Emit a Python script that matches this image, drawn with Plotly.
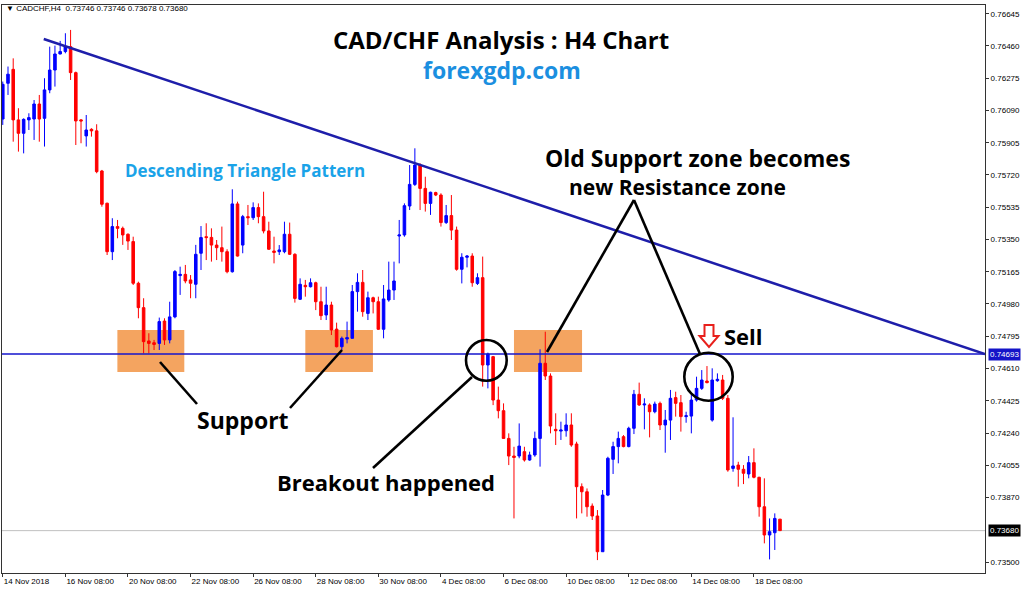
import plotly.graph_objects as go

# ---------------- data (CAD/CHF H4) ----------------
opens = [0.76041,0.76246,0.76326,0.76036,0.75959,0.76036,0.76041,0.76127,0.76045,0.76208,
         0.76322,0.76414,0.76428,0.76456,0.76307,0.76036,0.75944,0.75982,0.75973,0.75743,
         0.75558,0.75280,0.75424,0.75414,0.75380,0.75338,0.75099,0.74959,0.74768,0.74758,
         0.74754,0.74882,0.74774,0.74906,0.75143,0.75150,0.75118,0.75093,0.75271,0.75366,
         0.75362,0.75318,0.75303,0.75280,0.75165,0.75554,0.75318,0.75481,0.75475,0.75533,
         0.75481,0.75399,0.75284,0.75280,0.75280,0.75380,0.75265,0.75007,0.75087,0.75079,
         0.75102,0.74993,0.74917,0.74974,0.74836,0.74735,0.74779,0.74783,0.75051,0.75104,
         0.74926,0.75016,0.74993,0.74835,0.75003,0.75060,0.75370,0.75376,0.75542,0.75666,
         0.75777,0.75643,0.75557,0.75619,0.75605,0.75447,0.75487,0.75404,0.75179,0.75248,
         0.75255,0.75098,0.75131,0.74630,0.74678,0.74429,0.74368,0.74209,0.74108,0.74108,
         0.74133,0.74085,0.74114,0.74209,0.74640,0.74567,0.74261,0.74251,0.74253,0.74286,
         0.74177,0.73932,0.73903,0.73821,0.73764,0.73559,0.73884,0.74089,0.74162,0.74219,
         0.74162,0.74267,0.74462,0.74401,0.74401,0.74362,0.74410,0.74286,0.74314,0.74443,
         0.74414,0.74334,0.74337,0.74429,0.74496,0.74538,0.74314,0.74540,0.74544,0.74439,
         0.74037,0.74056,0.74032,0.74005,0.74070,0.73986,0.73817,0.73655,0.73668,0.73746]
highs = [0.76256,0.76342,0.76389,0.76103,0.76045,0.76074,0.76150,0.76179,0.76275,0.76456,
         0.76462,0.76489,0.76533,0.76552,0.76313,0.76041,0.76064,0.75988,0.76011,0.75749,
         0.75561,0.75472,0.75462,0.75424,0.75385,0.75366,0.75108,0.75013,0.74812,0.74774,
         0.74902,0.74898,0.74993,0.75175,0.75194,0.75204,0.75146,0.75319,0.75427,0.75443,
         0.75414,0.75347,0.75424,0.75294,0.75638,0.75567,0.75491,0.75548,0.75563,0.75557,
         0.75624,0.75452,0.75366,0.75318,0.75452,0.75447,0.75271,0.75127,0.75118,0.75127,
         0.75108,0.75079,0.75079,0.74993,0.74873,0.74793,0.74879,0.75089,0.75156,0.75175,
         0.75051,0.75022,0.75022,0.75089,0.75223,0.75223,0.75462,0.75557,0.75777,0.75873,
         0.75787,0.75710,0.75624,0.75624,0.75615,0.75548,0.75605,0.75424,0.75271,0.75261,
         0.75271,0.75156,0.75252,0.74701,0.74682,0.74506,0.74410,0.74238,0.74161,0.74295,
         0.74161,0.74133,0.74248,0.74720,0.74821,0.74582,0.74353,0.74305,0.74353,0.74353,
         0.74190,0.73951,0.73922,0.73836,0.73798,0.73913,0.74104,0.74190,0.74248,0.74228,
         0.74276,0.74487,0.74529,0.74439,0.74410,0.74420,0.74420,0.74372,0.74487,0.74477,
         0.74458,0.74362,0.74458,0.74563,0.74601,0.74624,0.74611,0.74582,0.74573,0.74458,
         0.74330,0.74075,0.74056,0.74108,0.74152,0.73989,0.73980,0.73750,0.73779,0.73746]
lows = [0.76007,0.76179,0.75911,0.75854,0.75844,0.75978,0.75921,0.75911,0.75883,0.76189,
        0.76227,0.76412,0.76418,0.76265,0.75892,0.75902,0.75883,0.75940,0.75730,0.75538,
        0.75261,0.75232,0.75357,0.75319,0.75290,0.75089,0.74898,0.74697,0.74697,0.74716,
        0.74716,0.74745,0.74754,0.74898,0.75032,0.75099,0.75013,0.75013,0.75175,0.75232,
        0.75223,0.75232,0.75223,0.75156,0.75160,0.75252,0.75271,0.75433,0.75462,0.75443,
        0.75385,0.75290,0.75213,0.75261,0.75271,0.75261,0.74988,0.75003,0.75022,0.75075,
        0.74945,0.74888,0.74888,0.74802,0.74731,0.74716,0.74754,0.74783,0.74936,0.74907,
        0.74888,0.74926,0.74831,0.74783,0.74993,0.75003,0.75213,0.75366,0.75519,0.75657,
        0.75519,0.75510,0.75491,0.75599,0.75424,0.75439,0.75347,0.75171,0.75098,0.75190,
        0.75079,0.75089,0.74506,0.74496,0.74400,0.74324,0.74209,0.74056,0.73750,0.74095,
        0.74076,0.74081,0.74104,0.74047,0.74544,0.74238,0.74171,0.74200,0.74219,0.74161,
        0.73750,0.73779,0.73760,0.73741,0.73511,0.73559,0.73878,0.74005,0.74066,0.74158,
        0.74158,0.74234,0.74395,0.74261,0.74215,0.74353,0.74257,0.74127,0.74200,0.74334,
        0.74248,0.74299,0.74238,0.74420,0.74487,0.74525,0.74305,0.74534,0.74429,0.74018,
        0.74018,0.73932,0.73947,0.73980,0.73980,0.73760,0.73607,0.73515,0.73569,0.73678]
closes = [0.76240,0.76298,0.76036,0.75959,0.76039,0.76049,0.76127,0.76041,0.76208,0.76322,
          0.76414,0.76428,0.76456,0.76307,0.76030,0.76030,0.75978,0.75973,0.75739,0.75552,
          0.75280,0.75424,0.75414,0.75376,0.75341,0.75099,0.74959,0.74764,0.74754,0.74748,
          0.74879,0.74774,0.74906,0.75166,0.75150,0.75112,0.75099,0.75265,0.75361,0.75361,
          0.75318,0.75303,0.75280,0.75165,0.75554,0.75255,0.75481,0.75475,0.75533,0.75481,
          0.75399,0.75294,0.75276,0.75290,0.75380,0.75265,0.75012,0.75093,0.75079,0.75102,
          0.74993,0.74913,0.74974,0.74831,0.74735,0.74783,0.74787,0.75051,0.75104,0.74936,
          0.75016,0.74993,0.74835,0.75009,0.75060,0.75112,0.75376,0.75544,0.75666,0.75777,
          0.75643,0.75557,0.75621,0.75605,0.75447,0.75487,0.75404,0.75179,0.75248,0.75255,
          0.75102,0.75131,0.74630,0.74693,0.74429,0.74368,0.74209,0.74108,0.74100,0.74165,
          0.74085,0.74114,0.74209,0.74640,0.74567,0.74280,0.74253,0.74257,0.74286,0.74171,
          0.73932,0.73903,0.73817,0.73764,0.73559,0.73884,0.74095,0.74162,0.74209,0.74162,
          0.74267,0.74462,0.74401,0.74406,0.74362,0.74406,0.74286,0.74314,0.74439,0.74410,
          0.74334,0.74339,0.74429,0.74496,0.74544,0.74529,0.74544,0.74548,0.74439,0.74028,
          0.74051,0.74032,0.74009,0.74070,0.73986,0.73817,0.73655,0.73674,0.73750,0.73680]
bars = list(range(len(closes)))

x_tick_bars = [0, 12, 24, 36, 48, 60, 72, 84, 96, 108, 120, 132, 144]
x_tick_labels = ["14 Nov 2018", "16 Nov 08:00", "20 Nov 08:00", "22 Nov 08:00",
                 "26 Nov 08:00", "28 Nov 08:00", "30 Nov 08:00", "4 Dec 08:00",
                 "6 Dec 08:00", "10 Dec 08:00", "12 Dec 08:00", "14 Dec 08:00",
                 "18 Dec 08:00"]
y_tick_values = [0.73500, 0.73870, 0.74055, 0.74240, 0.74425, 0.74610, 0.74795,
                 0.74980, 0.75165, 0.75350, 0.75535, 0.75720, 0.75905, 0.76090,
                 0.76275, 0.76460, 0.76645]

support_level = 0.74693
last_price = 0.73680
trend_start = (7.85, 0.76500)
trend_end = (188.3, 0.74693)
zone_low, zone_high = 0.74590, 0.74831
zones = [(21.97, 34.8), (58.0, 70.96), (98.0, 111.05)]

# ---------------- figure ----------------
L, R, T, B = 2, 985, 5, 573
W, H = R - L, B - T


def P(xp, yp):
    return (xp - L) / W, (B - yp) / H


fig = go.Figure()
fig.add_trace(go.Candlestick(
    x=bars, open=opens, high=highs, low=lows, close=closes,
    increasing=dict(line=dict(color="#0000FF", width=1), fillcolor="#0000FF"),
    decreasing=dict(line=dict(color="#FF0000", width=1), fillcolor="#FF0000"),
    whiskerwidth=0, hoverinfo="skip", showlegend=False))

shapes = []
for x0, x1 in zones:
    shapes.append(dict(type="rect", xref="x", yref="y", x0=x0, x1=x1,
                       y0=zone_low, y1=zone_high, fillcolor="#F4A460",
                       line=dict(width=0), layer="below"))
shapes.append(dict(type="line", xref="paper", yref="y", x0=0, x1=1,
                   y0=last_price, y1=last_price,
                   line=dict(color="#C0C0C0", width=1), layer="below"))
shapes.append(dict(type="line", xref="paper", yref="y", x0=0, x1=1,
                   y0=support_level, y1=support_level,
                   line=dict(color="#1515CC", width=1.5)))
shapes.append(dict(type="line", xref="x", yref="y",
                   x0=trend_start[0], y0=trend_start[1],
                   x1=trend_end[0], y1=trend_end[1],
                   line=dict(color="#1E1EAA", width=2.5)))


def pline(a, b, w=2.6):
    (x0, y0), (x1, y1) = P(*a), P(*b)
    return dict(type="line", xref="paper", yref="paper", x0=x0, y0=y0,
                x1=x1, y1=y1, line=dict(color="black", width=w))


def pcircle(a, b):
    (x0, y0), (x1, y1) = P(*a), P(*b)
    return dict(type="circle", xref="paper", yref="paper", x0=x0, y0=y0,
                x1=x1, y1=y1, line=dict(color="black", width=2.6))


shapes += [
    pline((160, 362), (197, 404)),
    pline((342, 350), (290, 408)),
    pline((373, 468), (472, 377)),
    pline((547, 352), (634, 200)),
    pline((634, 200), (700, 354)),
    pcircle((466, 340), (506.7, 380.7)),
    pcircle((684.3, 352.7), (732.7, 400.7)),
]

arrow_px = [(704.5, 325), (713.5, 325), (713.5, 336), (718.5, 336), (709, 347),
            (699.5, 336), (704.5, 336)]
path = "M " + " L ".join("%.5f,%.5f" % P(x, y) for x, y in arrow_px) + " Z"
shapes.append(dict(type="path", xref="paper", yref="paper", path=path,
                   fillcolor="white", line=dict(color="#E8201C", width=2)))

ann = []


def text(xp, yp, s, size, color="black", family="Open Sans", xanchor="center", bold=True):
    x, y = P(xp, yp)
    ann.append(dict(xref="paper", yref="paper", x=x, y=y, text=("<b>%s</b>" % s) if bold else s,
                    showarrow=False, xanchor=xanchor, yanchor="middle",
                    font=dict(family=family, size=size, color=color)))


text(4, 9, "▼ CADCHF,H4  0.73746 0.73746 0.73678 0.73680", 8, family="Liberation Sans",
     xanchor="left", bold=False)
text(501, 40, "CAD/CHF Analysis : H4 Chart", 24)
text(502, 70, "forexgdp.com", 23, color="#1B8FE0")
text(245, 170, "Descending Triangle Pattern", 17, color="#1AA3E8")
text(697, 158, "Old Support zone becomes", 23)
text(677, 187, "new Resistance zone", 21)
text(743, 336, "Sell", 22)
text(243, 420, "Support", 23)
text(386, 482, "Breakout happened", 22)

for price, bg in [(support_level, "#1414C8"), (last_price, "black")]:
    ann.append(dict(xref="paper", yref="y", x=(1004 - L) / W, y=price,
                    text="%.5f" % price, showarrow=False, xanchor="center",
                    yanchor="middle", bgcolor=bg, borderpad=1,
                    font=dict(family="Liberation Sans", size=8, color="white")))

fig.update_layout(
    width=1024, height=589,
    margin=dict(l=L, r=1024 - R, t=T, b=589 - B, autoexpand=False),
    paper_bgcolor="white", plot_bgcolor="white",
    shapes=shapes, annotations=ann,
    xaxis=dict(range=[-0.15, 188.3], rangeslider=dict(visible=False),
               tickvals=x_tick_bars, ticktext=x_tick_labels,
               ticks="outside", ticklen=3, tickcolor="#333",
               ticklabelposition="outside right",
               tickfont=dict(family="Liberation Sans", size=8, color="black"),
               showgrid=False, zeroline=False, showline=True, mirror=True,
               linecolor="#333", linewidth=1),
    yaxis=dict(range=[0.73437, 0.76695], side="right",
               tickvals=y_tick_values, tickformat=".5f",
               ticks="outside", ticklen=3, tickcolor="#333",
               tickfont=dict(family="Liberation Sans", size=8, color="black"),
               showgrid=False, zeroline=False, showline=True, mirror=True,
               linecolor="#333", linewidth=1),
)

fig.write_html("out.html", config={"displayModeBar": False},
               post_script="document.body.style.margin='0';document.body.style.padding='0';"
                           "document.body.style.overflow='hidden';")
